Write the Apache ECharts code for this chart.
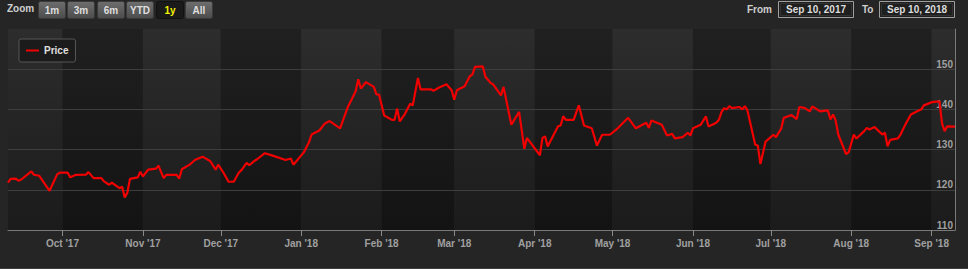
<!DOCTYPE html>
<html>
<head>
<meta charset="utf-8">
<script src="https://cdn.jsdelivr.net/npm/echarts@6/dist/echarts.min.js"></script>
<style>
  html, body { margin: 0; padding: 0; background: #252525; }
  #chart { width: 968px; height: 269px; }
</style>
</head>
<body>
<div id="chart"></div>
<script>
// ---- data ----
const dates = [
'2017-09-10','2017-09-11','2017-09-13','2017-09-14','2017-09-15','2017-09-19','2017-09-20','2017-09-22','2017-09-26','2017-09-29',
'2017-09-30','2017-10-03','2017-10-04','2017-10-06','2017-10-10','2017-10-11','2017-10-13','2017-10-16','2017-10-17','2017-10-19',
'2017-10-20','2017-10-23','2017-10-24','2017-10-25','2017-10-26','2017-10-27','2017-10-30','2017-10-31','2017-11-01','2017-11-03',
'2017-11-06','2017-11-07','2017-11-09','2017-11-10','2017-11-14','2017-11-15','2017-11-16','2017-11-19','2017-11-20','2017-11-21',
'2017-11-24','2017-11-27','2017-11-29','2017-11-30','2017-12-02','2017-12-04','2017-12-06','2017-12-08','2017-12-09','2017-12-11',
'2017-12-12','2017-12-14','2017-12-15','2017-12-18','2017-12-21','2017-12-26','2017-12-28','2017-12-29','2018-01-02','2018-01-04',
'2018-01-05','2018-01-08','2018-01-10','2018-01-11','2018-01-12','2018-01-16','2018-01-19','2018-01-22','2018-01-23','2018-01-24',
'2018-01-26','2018-01-29','2018-01-30','2018-01-31','2018-02-02','2018-02-05','2018-02-06','2018-02-07','2018-02-08','2018-02-10',
'2018-02-12','2018-02-13','2018-02-15','2018-02-16','2018-02-20','2018-02-21','2018-02-23','2018-02-26','2018-02-28','2018-03-01',
'2018-03-02','2018-03-05','2018-03-07','2018-03-08','2018-03-09','2018-03-12','2018-03-13','2018-03-15','2018-03-16','2018-03-19',
'2018-03-20','2018-03-23','2018-03-26','2018-03-28','2018-03-29','2018-04-03','2018-04-04','2018-04-05','2018-04-06','2018-04-10',
'2018-04-11','2018-04-12','2018-04-13','2018-04-16','2018-04-18','2018-04-20','2018-04-23','2018-04-25','2018-04-27','2018-04-30',
'2018-05-03','2018-05-07','2018-05-10','2018-05-14','2018-05-15','2018-05-16','2018-05-20','2018-05-22','2018-05-24','2018-05-25',
'2018-05-28','2018-05-30','2018-05-31','2018-06-01','2018-06-04','2018-06-06','2018-06-07','2018-06-10','2018-06-11','2018-06-12',
'2018-06-13','2018-06-14','2018-06-15','2018-06-16','2018-06-19','2018-06-20','2018-06-21','2018-06-22','2018-06-25','2018-06-26',
'2018-06-27','2018-06-29','2018-07-02','2018-07-03','2018-07-05','2018-07-06','2018-07-09','2018-07-11','2018-07-12','2018-07-14',
'2018-07-16','2018-07-17','2018-07-20','2018-07-23','2018-07-24','2018-07-25','2018-07-26','2018-07-27','2018-07-30','2018-07-31',
'2018-08-02','2018-08-03','2018-08-06','2018-08-07','2018-08-08','2018-08-10','2018-08-13','2018-08-14','2018-08-15','2018-08-16',
'2018-08-19','2018-08-20','2018-08-22','2018-08-24','2018-08-27','2018-08-28','2018-08-29','2018-08-30','2018-09-01','2018-09-04',
'2018-09-05','2018-09-06','2018-09-07','2018-09-10'
];
const prices = [
121.8,122.7,122.8,122.25,122.5,124.6,123.75,123.5,119.75,123.9,
124.25,124.25,123.1,123.7,123.75,124.4,122.9,122.9,122.1,121.25,
121.8,120.4,120.75,118.1,119.3,122.7,123.1,124.5,123.3,125,
125.25,126,122.9,123.7,123.7,122.8,125.1,126.25,126.8,127.4,
128.25,127.1,125,126.25,124.3,122,122,124.3,124.9,126.7,
126.1,127.2,127.6,129.1,128.5,127.4,127.8,126.25,129.3,131.8,
133.75,134.75,136.4,136.8,137.1,135.3,140.6,144.5,147.5,145.2,
146.8,145.6,143.75,143.7,138.5,137.4,137.4,140.2,137,138.9,
141.4,141,147.8,145,145,144.6,145.4,146.25,144.75,142.4,
144.75,145.75,148.25,148.7,150.6,150.7,148.1,146.6,146.2,143.5,
145.6,136.2,139.4,130.2,132.9,128.6,132.9,133.3,130.8,135.8,
136,138.3,137.4,137.4,141,136,135.3,131,133.7,133.7,
135.3,137.9,135.3,136.7,135.4,137.25,136.2,133.5,133.9,132.8,
133.1,134.2,133.5,135.3,136.2,138.25,135.75,136.7,137.4,139.3,
140.3,140,140.8,140.3,140.6,140,140.8,139.75,131.2,131,
126.4,132,133.7,133.1,135.2,137.9,138.6,137.6,140.6,140.4,
139.5,140.75,139.5,139.75,137.5,138.75,137.25,133.75,128.9,129.3,
133.75,132.75,134.6,135.4,135,135.6,133.75,134.2,130.8,132.4,
132.8,133.75,136.4,138.75,139.75,140,141,141.25,141.8,142,
136.5,134.6,135.8,135.7
];
const seriesName = 'Price';
const monthTicks = ['2017-10-01','2017-11-01','2017-12-01','2018-01-01','2018-02-01','2018-03-01',
                    '2018-04-01','2018-05-01','2018-06-01','2018-07-01','2018-08-01','2018-09-01'];
const monthLabels = ["Oct '17","Nov '17","Dec '17","Jan '18","Feb '18","Mar '18",
                     "Apr '18","May '18","Jun '18","Jul '18","Aug '18","Sep '18"];
const rangeStart = '2017-09-10';
const rangeEnd = '2018-09-10';
const yTicks = [110, 120, 130, 140, 150];
const yGridLines = [120, 130, 140, 150];
const zoomButtons = ['1m', '3m', '6m', 'YTD', '1y', 'All'];
const selectedButton = '1y';
const fromLabel = 'Sep 10, 2017';
const toLabel = 'Sep 10, 2018';

// ---- helpers ----
const t = s => { const p = s.split('-').map(Number); return Date.UTC(p[0], p[1] - 1, p[2]); };
const tickTimes = monthTicks.map(t);
const bandEdges = [rangeStart].concat(monthTicks, [rangeEnd]);

const lightBand = { type: 'linear', x: 0, y: 0, x2: 0, y2: 1,
  colorStops: [{ offset: 0, color: '#2d2d2d' }, { offset: 1, color: '#1b1b1b' }] };
const darkBand = { type: 'linear', x: 0, y: 0, x2: 0, y2: 1,
  colorStops: [{ offset: 0, color: '#202020' }, { offset: 1, color: '#131313' }] };

const bands = [];
for (let i = 0; i < bandEdges.length - 1; i++) {
  bands.push([
    { xAxis: t(bandEdges[i]), itemStyle: { color: i % 2 === 0 ? lightBand : darkBand } },
    { xAxis: t(bandEdges[i + 1]) }
  ]);
}

const FONT = '"Liberation Sans", Arial, sans-serif';

const graphics = [];
graphics.push({ type: 'text', left: 7, top: 3,
  style: { text: 'Zoom', fill: '#cfcfcf', font: 'bold 10px ' + FONT } });
const btnX = [38, 67, 97, 126, 156, 185];
zoomButtons.forEach((b, i) => {
  const sel = b === selectedButton;
  graphics.push({
    type: 'group', left: btnX[i], top: 1,
    children: [
      { type: 'rect', shape: { x: 0, y: 0, width: 27, height: 17, r: 2 },
        style: { fill: sel ? '#1a1a1a' : { type: 'linear', x: 0, y: 0, x2: 0, y2: 1,
          colorStops: [{ offset: 0, color: '#6e6e6e' }, { offset: 1, color: '#4c4c4c' }] },
          stroke: sel ? '#111' : '#3a3a3a', lineWidth: 1 } },
      { type: 'text', x: 13.5, y: 8.5,
        style: { text: b, fill: sel ? '#f2f200' : '#dedede', font: 'bold 10px ' + FONT,
          align: 'center', verticalAlign: 'middle' } }
    ]
  });
});
graphics.push({ type: 'text', x: 772, y: 9.5,
  style: { text: 'From', fill: '#cfcfcf', font: 'bold 10px ' + FONT, align: 'right', verticalAlign: 'middle' } });
graphics.push({ type: 'text', x: 862, y: 9.5,
  style: { text: 'To', fill: '#cfcfcf', font: 'bold 10px ' + FONT, align: 'left', verticalAlign: 'middle' } });
[[778, fromLabel], [879, toLabel]].forEach(([x, label]) => {
  graphics.push({ type: 'rect', shape: { x: x + 0.5, y: 1.5, width: 75, height: 16 },
    style: { fill: '#1f1f1f', stroke: '#a0a0a0', lineWidth: 1 } });
  graphics.push({ type: 'rect', shape: { x: x + 2.5, y: 3.5, width: 71, height: 12 },
    style: { fill: 'none', stroke: '#333', lineWidth: 1 } });
  graphics.push({ type: 'text', x: x + 38, y: 9.5,
    style: { text: label, fill: '#dcdcdc', font: 'bold 10px ' + FONT, align: 'center', verticalAlign: 'middle' } });
});
graphics.push({ type: 'line', shape: { x1: 0, y1: 268.5, x2: 968, y2: 268.5 },
  style: { stroke: '#3e3e3e', lineWidth: 1 } });

const chart = echarts.init(document.getElementById('chart'), null, { renderer: 'svg' });
chart.setOption({
  backgroundColor: '#252525',
  animation: false,
  textStyle: { fontFamily: FONT },
  grid: { left: 8, right: 13, top: 29, bottom: 39 },
  legend: {
    left: 19, top: 39,
    padding: [6, 7, 6, 7],
    backgroundColor: '#1b1b1b',
    borderColor: '#565656', borderWidth: 1, borderRadius: 2,
    itemWidth: 13, itemHeight: 2, itemGap: 5,
    icon: 'rect',
    itemStyle: { color: '#f00000' },
    textStyle: { color: '#e0e0e0', fontWeight: 'bold', fontSize: 10, fontFamily: FONT, lineHeight: 11 },
    data: [seriesName]
  },
  xAxis: {
    type: 'value',
    min: t(rangeStart), max: t(rangeEnd),
    axisLine: { show: true, lineStyle: { color: '#7a7a7a', width: 1 } },
    axisTick: { show: true, customValues: tickTimes, length: 6, lineStyle: { color: '#8a8a8a' } },
    axisLabel: {
      customValues: tickTimes,
      color: '#a0a0a0', fontWeight: 'bold', fontSize: 10, fontFamily: FONT, margin: 8,
      formatter: v => {
        let best = 0, bd = Infinity;
        tickTimes.forEach((tt, i) => { const d = Math.abs(tt - v); if (d < bd) { bd = d; best = i; } });
        return monthLabels[best];
      }
    },
    splitLine: { show: false }
  },
  yAxis: {
    type: 'value', position: 'right',
    min: 110, max: 160, interval: 10,
    axisLine: { show: true, lineStyle: { color: '#7a7a7a', width: 1 } },
    axisTick: { show: false },
    splitLine: { show: false },
    axisLabel: {
      inside: true, customValues: yTicks,
      align: 'right', verticalAlign: 'bottom', margin: 2,
      color: '#a0a0a0', fontWeight: 'bold', fontSize: 10, fontFamily: FONT
    }
  },
  graphic: graphics,
  series: [{
    name: seriesName,
    type: 'line',
    z: 3,
    data: dates.map((d, i) => [t(d), prices[i]]),
    showSymbol: false, symbol: 'none',
    lineStyle: { color: '#f00000', width: 2.2 },
    itemStyle: { color: '#f00000' },
    markArea: { silent: true, z: 0, data: bands },
    markLine: {
      silent: true, z: 1, symbol: 'none',
      label: { show: false },
      lineStyle: { color: '#3e3e3e', type: 'solid', width: 1 },
      data: yGridLines.map(v => ({ yAxis: v }))
    }
  }]
});
</script>
</body>
</html>
